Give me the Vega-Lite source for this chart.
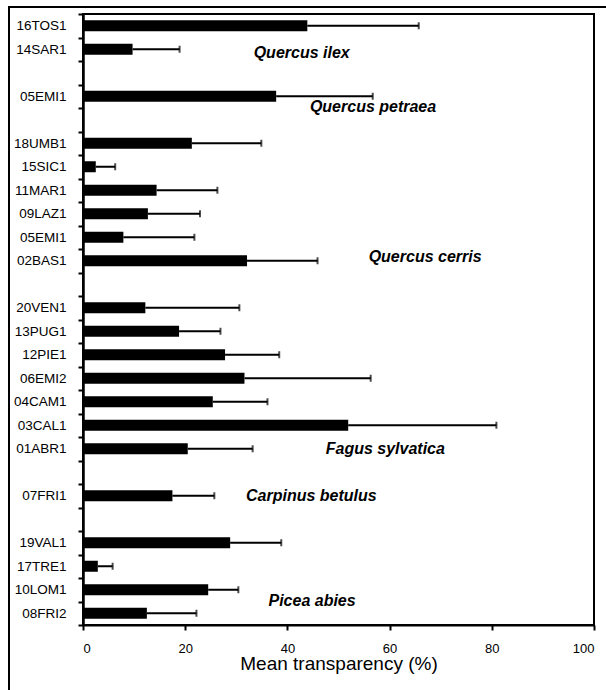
{
  "$schema": "https://vega.github.io/schema/vega-lite/v6.json",
  "width": 511,
  "height": 611,
  "autosize": {"type": "none"},
  "padding": {"left": 83, "top": 14, "right": 12, "bottom": 65},
  "background": "white",
  "config": {
    "view": {"stroke": "black", "strokeWidth": 2},
    "font": "Liberation Sans",
    "axis": {
      "grid": false,
      "domainColor": "black",
      "domainWidth": 2,
      "tickColor": "black",
      "tickWidth": 2,
      "tickSize": 5,
      "labelColor": "black",
      "labelFont": "Liberation Sans",
      "titleFont": "Liberation Sans",
      "titleColor": "black"
    }
  },
  "datasets": {
    "sites": [
      {"species": "Quercus ilex", "site": "16TOS1", "mean": 43.9, "upper": 65.7},
      {"species": "Quercus ilex", "site": "14SAR1", "mean": 9.7, "upper": 18.9},
      {"species": "Quercus petraea", "site": "05EMI1", "mean": 37.8, "upper": 56.7},
      {"species": "Quercus cerris", "site": "18UMB1", "mean": 21.3, "upper": 34.9},
      {"species": "Quercus cerris", "site": "15SIC1", "mean": 2.5, "upper": 6.3},
      {"species": "Quercus cerris", "site": "11MAR1", "mean": 14.4, "upper": 26.3},
      {"species": "Quercus cerris", "site": "09LAZ1", "mean": 12.7, "upper": 22.9},
      {"species": "Quercus cerris", "site": "05EMI1 (cerris)", "mean": 7.9, "upper": 21.8},
      {"species": "Quercus cerris", "site": "02BAS1", "mean": 32.1, "upper": 45.9},
      {"species": "Fagus sylvatica", "site": "20VEN1", "mean": 12.2, "upper": 30.6},
      {"species": "Fagus sylvatica", "site": "13PUG1", "mean": 18.8, "upper": 26.9},
      {"species": "Fagus sylvatica", "site": "12PIE1", "mean": 27.8, "upper": 38.4},
      {"species": "Fagus sylvatica", "site": "06EMI2", "mean": 31.6, "upper": 56.3},
      {"species": "Fagus sylvatica", "site": "04CAM1", "mean": 25.4, "upper": 36.1},
      {"species": "Fagus sylvatica", "site": "03CAL1", "mean": 51.9, "upper": 80.9},
      {"species": "Fagus sylvatica", "site": "01ABR1", "mean": 20.5, "upper": 33.2},
      {"species": "Carpinus betulus", "site": "07FRI1", "mean": 17.5, "upper": 25.7},
      {"species": "Picea abies", "site": "19VAL1", "mean": 28.8, "upper": 38.8},
      {"species": "Picea abies", "site": "17TRE1", "mean": 2.9, "upper": 5.8},
      {"species": "Picea abies", "site": "10LOM1", "mean": 24.5, "upper": 30.4},
      {"species": "Picea abies", "site": "08FRI2", "mean": 12.5, "upper": 22.2}
    ]
  },
  "layer": [
    {
      "data": {"name": "sites"},
      "mark": {"type": "bar", "color": "black", "size": 11},
      "encoding": {
        "y": {
          "field": "site",
          "type": "nominal",
          "scale": {
            "domain": ["16TOS1", "14SAR1", "gap1", "05EMI1", "gap2", "18UMB1", "15SIC1", "11MAR1", "09LAZ1", "05EMI1 (cerris)", "02BAS1", "gap3", "20VEN1", "13PUG1", "12PIE1", "06EMI2", "04CAM1", "03CAL1", "01ABR1", "gap4", "07FRI1", "gap5", "19VAL1", "17TRE1", "10LOM1", "08FRI2"],
            "paddingInner": 0,
            "paddingOuter": 0
          },
          "axis": {
            "title": null,
            "tickBand": "extent",
            "domainWidth": 2.5,
            "labelPadding": 12,
            "labelFontSize": 13.5,
            "labelExpr": "isString(datum.value) ? (indexof(datum.value, 'gap') == 0 ? '' : split(datum.value, ' ')[0]) : ''"
          }
        },
        "x": {
          "field": "mean",
          "type": "quantitative",
          "scale": {"domain": [0, 100], "nice": false},
          "axis": {
            "title": "Mean transparency (%)",
            "orient": "bottom",
            "values": [0, 20, 40, 60, 80, 100],
            "labelFontSize": 13,
            "labelPadding": 12,
            "titleFontSize": 19,
            "titleFontWeight": "normal",
            "titlePadding": -1
          }
        }
      }
    },
    {
      "data": {"name": "sites"},
      "mark": {"type": "rule", "color": "black", "strokeWidth": 2},
      "encoding": {
        "y": {"field": "site", "type": "nominal"},
        "x": {"field": "mean", "type": "quantitative"},
        "x2": {"field": "upper"}
      }
    },
    {
      "data": {"name": "sites"},
      "mark": {"type": "tick", "color": "black", "size": 7, "thickness": 2},
      "encoding": {
        "y": {"field": "site", "type": "nominal"},
        "x": {"field": "upper", "type": "quantitative"}
      }
    },
    {
      "data": {"values": [
        {"species": "Fagus sylvatica", "site": "01ABR1", "x": 47.5},
        {"species": "Carpinus betulus", "site": "07FRI1", "x": 31.9}
      ]},
      "mark": {"type": "text", "align": "left", "baseline": "middle", "fontSize": 16, "fontWeight": "bold", "fontStyle": "italic", "color": "black"},
      "encoding": {
        "y": {"field": "site", "type": "nominal"},
        "x": {"field": "x", "type": "quantitative"},
        "text": {"field": "species"}
      }
    },
    {
      "data": {"values": [
        {"species": "Quercus petraea", "site": "05EMI1", "x": 44.4},
        {"species": "Picea abies", "site": "10LOM1", "x": 36.3}
      ]},
      "mark": {"type": "text", "align": "left", "baseline": "middle", "dy": 11, "fontSize": 16, "fontWeight": "bold", "fontStyle": "italic", "color": "black"},
      "encoding": {
        "y": {"field": "site", "type": "nominal"},
        "x": {"field": "x", "type": "quantitative"},
        "text": {"field": "species"}
      }
    },
    {
      "data": {"values": [
        {"species": "Quercus ilex", "site": "14SAR1", "x": 33.4}
      ]},
      "mark": {"type": "text", "align": "left", "baseline": "middle", "dy": 4, "fontSize": 16, "fontWeight": "bold", "fontStyle": "italic", "color": "black"},
      "encoding": {
        "y": {"field": "site", "type": "nominal"},
        "x": {"field": "x", "type": "quantitative"},
        "text": {"field": "species"}
      }
    },
    {
      "data": {"values": [
        {"species": "Quercus cerris", "site": "02BAS1", "x": 55.9}
      ]},
      "mark": {"type": "text", "align": "left", "baseline": "middle", "dy": -4, "fontSize": 16, "fontWeight": "bold", "fontStyle": "italic", "color": "black"},
      "encoding": {
        "y": {"field": "site", "type": "nominal"},
        "x": {"field": "x", "type": "quantitative"},
        "text": {"field": "species"}
      }
    },
    {
      "data": {"name": "sites"},
      "mark": {"type": "point", "opacity": 0},
      "encoding": {
        "y": {"field": "site", "type": "nominal"},
        "x": {"field": "mean", "type": "quantitative"},
        "shape": {
          "datum": "frame",
          "legend": {
            "orient": "none",
            "legendX": -74,
            "legendY": -7,
            "padding": 360,
            "strokeColor": "black",
            "title": null,
            "symbolOpacity": 0,
            "symbolSize": 0,
            "labelExpr": "''",
            "encoding": {"legend": {"strokeWidth": {"value": 2}}}
          }
        }
      }
    }
  ]
}
